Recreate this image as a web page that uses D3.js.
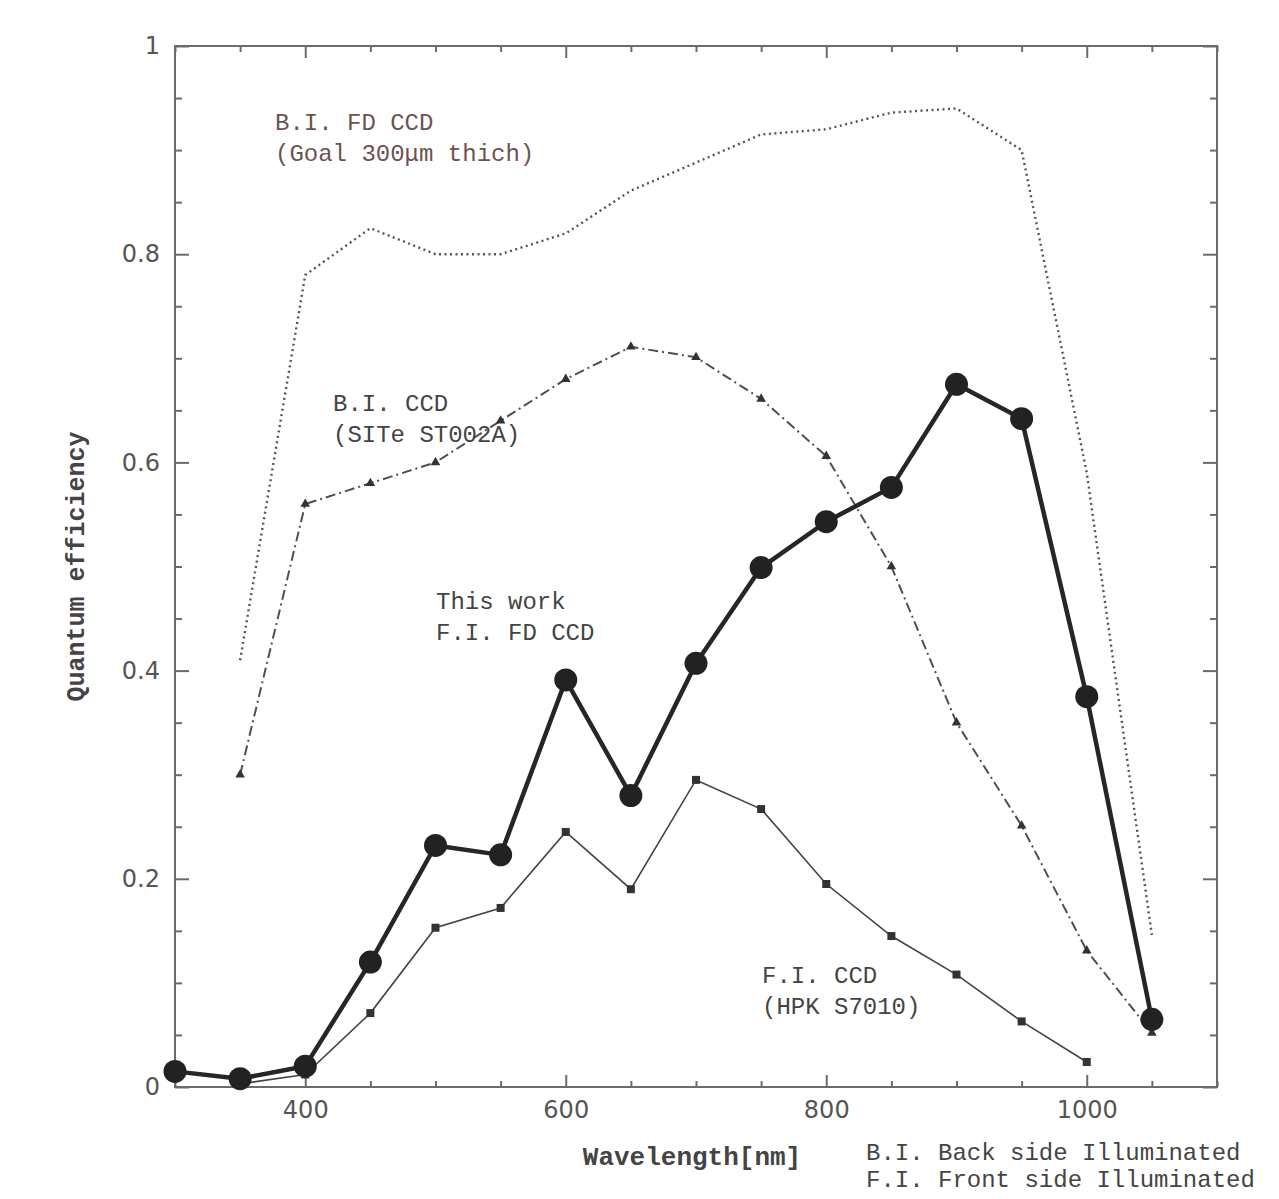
<!DOCTYPE html>
<html>
<head>
<meta charset="utf-8">
<script src="https://cdn.jsdelivr.net/npm/d3@7"></script>
<style>
  html, body { margin: 0; padding: 0; background: #fff; }
  svg { display: block; }
</style>
</head>
<body>
<div id="chart"></div>
<script>
// wavelength grid (nm)
const waves = [300, 350, 400, 450, 500, 550, 600, 650, 700, 750, 800, 850, 900, 950, 1000, 1050];

// This work, F.I. FD CCD
const thisWork = [0.015, 0.008, 0.02, 0.12, 0.232, 0.223, 0.391, 0.28, 0.407, 0.499, 0.543, 0.576, 0.675, 0.642, 0.375, 0.065];
// F.I. CCD (HPK S7010), 350..1000
const fiWaves = [350, 400, 450, 500, 550, 600, 650, 700, 750, 800, 850, 900, 950, 1000];
const fiCCD = [0.003, 0.012, 0.071, 0.153, 0.172, 0.245, 0.19, 0.295, 0.267, 0.195, 0.145, 0.108, 0.063, 0.024];
// B.I. CCD (SITe ST002A), 350..1050
const biWaves = [350, 400, 450, 500, 550, 600, 650, 700, 750, 800, 850, 900, 950, 1000, 1050];
const biCCD = [0.30, 0.56, 0.58, 0.60, 0.64, 0.68, 0.711, 0.701, 0.661, 0.606, 0.50, 0.35, 0.251, 0.131, 0.052];
// B.I. FD CCD goal, 350..1050
const goalFD = [0.41, 0.78, 0.825, 0.80, 0.80, 0.82, 0.861, 0.888, 0.915, 0.92, 0.936, 0.94, 0.90, 0.59, 0.146];

const xMajor = [400, 600, 800, 1000];
const yMajor = [0, 0.2, 0.4, 0.6, 0.8, 1];

const W = 1279, H = 1199;
const margin = { top: 46, right: 62, bottom: 112, left: 175 };

const svg = d3.select("#chart").append("svg")
  .attr("width", W).attr("height", H);

const w = W - margin.left - margin.right;
const h = H - margin.top - margin.bottom;
const g = svg.append("g").attr("transform", `translate(${margin.left},${margin.top})`);

const x = d3.scaleLinear().domain([300, 1100]).range([0, w]);
const y = d3.scaleLinear().domain([0, 1]).range([h, 0]);

const AXIS = "#6b6b6b";
const TICKFONT = "'DejaVu Sans', sans-serif";
const MONO = "'Liberation Mono', 'DejaVu Sans Mono', monospace";

function styleAxis(sel) {
  sel.select(".domain").remove();
  sel.selectAll(".tick line").attr("stroke", AXIS).attr("stroke-width", 2);
  sel.selectAll(".tick text").attr("fill", "#555").attr("font-size", 24).attr("font-family", TICKFONT);
}

const xMinor = d3.range(300, 1101, 50).filter(d => !xMajor.includes(d));
const yMinor = d3.range(0, 1.001, 0.05).filter(d => !yMajor.some(m => Math.abs(m - d) < 1e-6));

// bottom
g.append("g").attr("transform", `translate(0,${h})`)
  .call(d3.axisBottom(x).tickValues(xMajor).tickSize(-12).tickPadding(14).tickFormat(d3.format("d")))
  .call(styleAxis);
g.append("g").attr("transform", `translate(0,${h})`)
  .call(d3.axisBottom(x).tickValues(xMinor).tickSize(-6).tickFormat(""))
  .call(styleAxis);
// top
g.append("g")
  .call(d3.axisTop(x).tickValues(xMajor).tickSize(-12).tickFormat(""))
  .call(styleAxis);
g.append("g")
  .call(d3.axisTop(x).tickValues(xMinor).tickSize(-6).tickFormat(""))
  .call(styleAxis);
// left
g.append("g")
  .call(d3.axisLeft(y).tickValues(yMajor).tickSize(-14).tickPadding(15).tickFormat(d3.format("~g")))
  .call(styleAxis);
g.append("g")
  .call(d3.axisLeft(y).tickValues(yMinor).tickSize(-7).tickFormat(""))
  .call(styleAxis);
// right
g.append("g").attr("transform", `translate(${w},0)`)
  .call(d3.axisRight(y).tickValues(yMajor).tickSize(-14).tickFormat(""))
  .call(styleAxis);
g.append("g").attr("transform", `translate(${w},0)`)
  .call(d3.axisRight(y).tickValues(yMinor).tickSize(-7).tickFormat(""))
  .call(styleAxis);

// frame
g.append("rect").attr("width", w).attr("height", h)
  .attr("fill", "none").attr("stroke", AXIS).attr("stroke-width", 2);

const line = d3.line().x(d => x(d[0])).y(d => y(d[1]));
const zip = (xs, ys) => xs.map((v, i) => [v, ys[i]]);

const goalPts = zip(biWaves, goalFD);
const biPts = zip(biWaves, biCCD);
const fiPts = zip(fiWaves, fiCCD);
const workPts = zip(waves, thisWork);

// goal, dotted
g.append("path").datum(goalPts).attr("d", line)
  .attr("fill", "none").attr("stroke", "#555").attr("stroke-width", 2.4)
  .attr("stroke-dasharray", "2,3.5");

// B.I. CCD, dash-dot with triangles
g.append("path").datum(biPts).attr("d", line)
  .attr("fill", "none").attr("stroke", "#505050").attr("stroke-width", 2)
  .attr("stroke-dasharray", "10,4,2,4");
g.selectAll(".tri").data(biPts).join("path")
  .attr("class", "tri")
  .attr("transform", d => `translate(${x(d[0])},${y(d[1])})`)
  .attr("d", d3.symbol(d3.symbolTriangle, 40))
  .attr("fill", "#333");

// F.I. CCD, thin line with squares
g.append("path").datum(fiPts).attr("d", line)
  .attr("fill", "none").attr("stroke", "#444").attr("stroke-width", 1.6);
g.selectAll(".sq").data(fiPts).join("rect")
  .attr("class", "sq")
  .attr("x", d => x(d[0]) - 4).attr("y", d => y(d[1]) - 4)
  .attr("width", 8).attr("height", 8)
  .attr("fill", "#333");

// this work, thick with big dots
g.append("path").datum(workPts).attr("d", line)
  .attr("fill", "none").attr("stroke", "#262626").attr("stroke-width", 4.5)
  .attr("stroke-linejoin", "round");
g.selectAll(".dot").data(workPts).join("circle")
  .attr("class", "dot")
  .attr("cx", d => x(d[0])).attr("cy", d => y(d[1]))
  .attr("r", 11.5).attr("fill", "#222");

// annotations
const notes = [
  { lines: ["B.I. FD CCD", "(Goal 300\u03bcm thich)"], x: 275, y: 130, color: "#6e5252" },
  { lines: ["B.I. CCD", "(SITe ST002A)"], x: 333, y: 411, color: "#444" },
  { lines: ["This work", "F.I. FD CCD"], x: 436, y: 609, color: "#444" },
  { lines: ["F.I. CCD", "(HPK S7010)"], x: 762, y: 983, color: "#444" },
  { lines: ["B.I. Back side Illuminated", "F.I. Front side Illuminated"], x: 866, y: 1160, color: "#444", gap: 27 }
];
notes.forEach(n => {
  const t = svg.append("text")
    .attr("x", n.x).attr("y", n.y)
    .attr("fill", n.color).attr("font-family", MONO).attr("font-size", 24);
  n.lines.forEach((s, i) => {
    t.append("tspan").attr("x", n.x).attr("dy", i === 0 ? 0 : (n.gap || 31)).text(s);
  });
});

// axis titles
svg.append("text")
  .attr("x", margin.left + x(700) - 4).attr("y", 1165)
  .attr("text-anchor", "middle")
  .attr("fill", "#444").attr("font-family", MONO).attr("font-size", 26).attr("font-weight", "bold")
  .text("Wavelength[nm]");

svg.append("text")
  .attr("transform", `translate(84,${margin.top + y(0.5)}) rotate(-90)`)
  .attr("text-anchor", "middle")
  .attr("fill", "#444").attr("font-family", MONO).attr("font-size", 25).attr("font-weight", "bold")
  .text("Quantum efficiency");
</script>
</body>
</html>
